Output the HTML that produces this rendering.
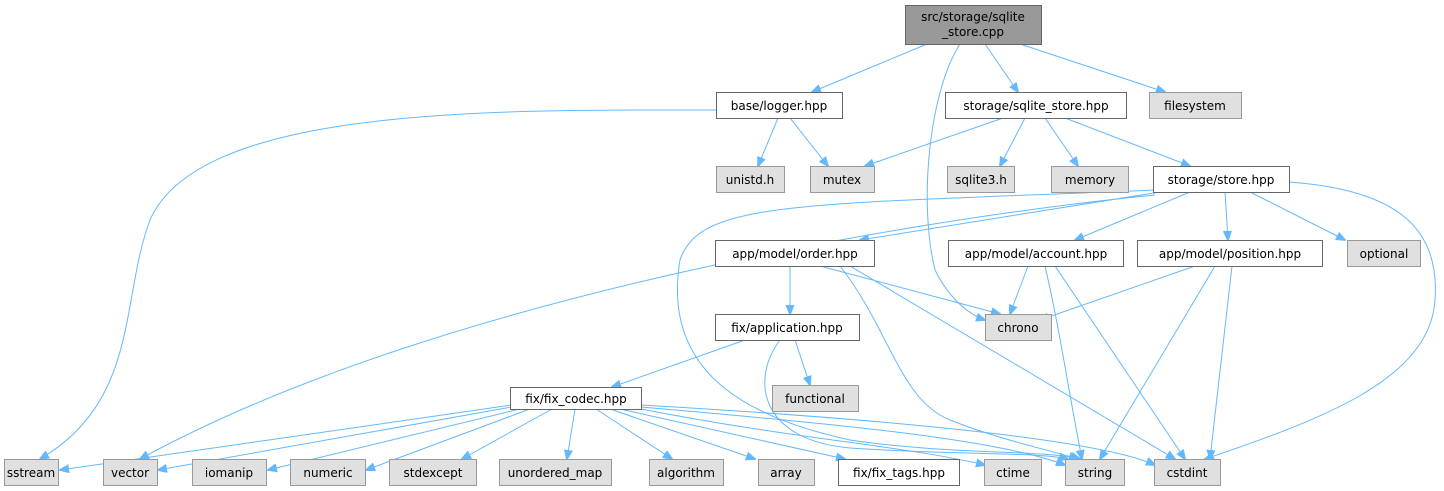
<!DOCTYPE html>
<html><head><style>
body{margin:0;background:#fff}
svg{display:block}
text{font-family:"DejaVu Sans","Liberation Sans",sans-serif;font-size:12px;text-anchor:middle}
.w{fill:#fff;stroke:#666}
.g{fill:#e0e0e0;stroke:#999}
path{fill:none;stroke:#63b8ff;stroke-width:1}
</style></head><body>
<svg width="1444" height="491" viewBox="0 0 1444 491">
<defs><marker id="a" viewBox="0 0 10 10" refX="9" refY="5" markerWidth="10" markerHeight="10" markerUnits="userSpaceOnUse" orient="auto"><path d="M0,1 L10,5 L0,9z" style="fill:#63b8ff;stroke:#63b8ff"/></marker></defs>
<g marker-end="url(#a)">
<path d="M927,44 L812,92"/>
<path d="M960,44 C930,90 918,200 935,270 C950,300 970,315 985,320"/>
<path d="M985,44 L1018,92"/>
<path d="M1020,44 L1165,92"/>
<path d="M716,110 C500,110 200,105 150,220 C120,300 140,400 40,459"/>
<path d="M778,118 L758,166"/>
<path d="M790,118 L828,166"/>
<path d="M1003,118 L865,166"/>
<path d="M1025,118 L1000,166"/>
<path d="M1045,118 L1078,166"/>
<path d="M1065,118 L1190,166"/>
<path d="M1155,195 C950,215 450,290 140,459"/>
<path d="M1155,190 C800,205 700,200 680,260 C660,380 760,420 850,440 C950,455 1050,450 1080,459"/>
<path d="M1160,192 L860,240"/>
<path d="M1190,192 L1075,240"/>
<path d="M1225,192 L1228,240"/>
<path d="M1250,192 L1345,240"/>
<path d="M1289,182 C1400,190 1440,230 1435,300 C1430,380 1320,420 1205,459"/>
<path d="M790,266 L790,314"/>
<path d="M820,266 L1000,314"/>
<path d="M840,266 C890,330 900,400 950,420 C1000,440 1050,450 1078,459"/>
<path d="M850,266 L1175,459"/>
<path d="M1028,266 L1010,314"/>
<path d="M1045,266 C1060,330 1070,400 1082,459"/>
<path d="M1055,266 L1185,459"/>
<path d="M1195,266 L1040,320"/>
<path d="M1215,266 L1100,459"/>
<path d="M1232,266 L1210,459"/>
<path d="M745,340 L612,387"/>
<path d="M795,340 L810,385"/>
<path d="M780,340 C750,380 760,440 850,448 C950,455 1040,452 1068,459"/>
<path d="M512,405 L60,470"/>
<path d="M512,407 L158,470"/>
<path d="M520,409 L268,470"/>
<path d="M530,409 L366,470"/>
<path d="M552,409 L462,459"/>
<path d="M575,409 L567,459"/>
<path d="M596,409 L672,459"/>
<path d="M610,409 L755,459"/>
<path d="M620,409 L845,459"/>
<path d="M641,409 C800,440 900,445 985,465"/>
<path d="M641,407 C850,425 1000,440 1065,465"/>
<path d="M641,405 C900,420 1100,440 1155,465"/>
</g>
<rect x="905.5" y="5.5" width="136" height="39" style="fill:#999;stroke:#666"/>
<text x="973" y="21">src/storage/sqlite</text><text x="973" y="36">_store.cpp</text>
<rect class="w" x="716.5" y="92.5" width="126" height="26"/><text x="779" y="110">base/logger.hpp</text>
<rect class="w" x="945.5" y="92.5" width="181" height="26"/><text x="1036" y="110">storage/sqlite_store.hpp</text>
<rect class="g" x="1149.5" y="92.5" width="92" height="26"/><text x="1195" y="110">filesystem</text>
<rect class="g" x="716.5" y="166.5" width="68" height="26"/><text x="750" y="184">unistd.h</text>
<rect class="g" x="810.5" y="166.5" width="64" height="26"/><text x="842" y="184">mutex</text>
<rect class="g" x="947.5" y="166.5" width="67" height="26"/><text x="981" y="184">sqlite3.h</text>
<rect class="g" x="1051.5" y="166.5" width="77" height="26"/><text x="1090" y="184">memory</text>
<rect class="w" x="1153.5" y="166.5" width="136" height="26"/><text x="1221" y="184">storage/store.hpp</text>
<rect class="w" x="715.5" y="240.5" width="159" height="26"/><text x="795" y="258">app/model/order.hpp</text>
<rect class="w" x="948.5" y="240.5" width="175" height="26"/><text x="1036" y="258">app/model/account.hpp</text>
<rect class="w" x="1137.5" y="240.5" width="185" height="26"/><text x="1230" y="258">app/model/position.hpp</text>
<rect class="g" x="1347.5" y="240.5" width="73" height="26"/><text x="1384" y="258">optional</text>
<rect class="w" x="715.5" y="314.5" width="144" height="26"/><text x="787" y="332">fix/application.hpp</text>
<rect class="g" x="985.5" y="314.5" width="66" height="26"/><text x="1018" y="332">chrono</text>
<rect class="g" x="772.5" y="385.5" width="86" height="26"/><text x="815" y="403">functional</text>
<rect class="w" x="510.5" y="387.5" width="131" height="22"/><text x="576" y="403">fix/fix_codec.hpp</text>
<rect class="g" x="4.5" y="459.5" width="54" height="26"/><text x="31" y="477">sstream</text>
<rect class="g" x="103.5" y="459.5" width="54" height="26"/><text x="130" y="477">vector</text>
<rect class="g" x="192.5" y="459.5" width="74" height="26"/><text x="229" y="477">iomanip</text>
<rect class="g" x="290.5" y="459.5" width="75" height="26"/><text x="328" y="477">numeric</text>
<rect class="g" x="389.5" y="459.5" width="87" height="26"/><text x="433" y="477">stdexcept</text>
<rect class="g" x="499.5" y="459.5" width="112" height="26"/><text x="555" y="477">unordered_map</text>
<rect class="g" x="649.5" y="459.5" width="74" height="26"/><text x="686" y="477">algorithm</text>
<rect class="g" x="758.5" y="459.5" width="56" height="26"/><text x="786" y="477">array</text>
<rect class="w" x="838.5" y="459.5" width="121" height="26"/><text x="899" y="477">fix/fix_tags.hpp</text>
<rect class="g" x="984.5" y="459.5" width="57" height="26"/><text x="1013" y="477">ctime</text>
<rect class="g" x="1065.5" y="459.5" width="59" height="26"/><text x="1095" y="477">string</text>
<rect class="g" x="1154.5" y="459.5" width="66" height="26"/><text x="1187" y="477">cstdint</text>
</svg>
</body></html>
